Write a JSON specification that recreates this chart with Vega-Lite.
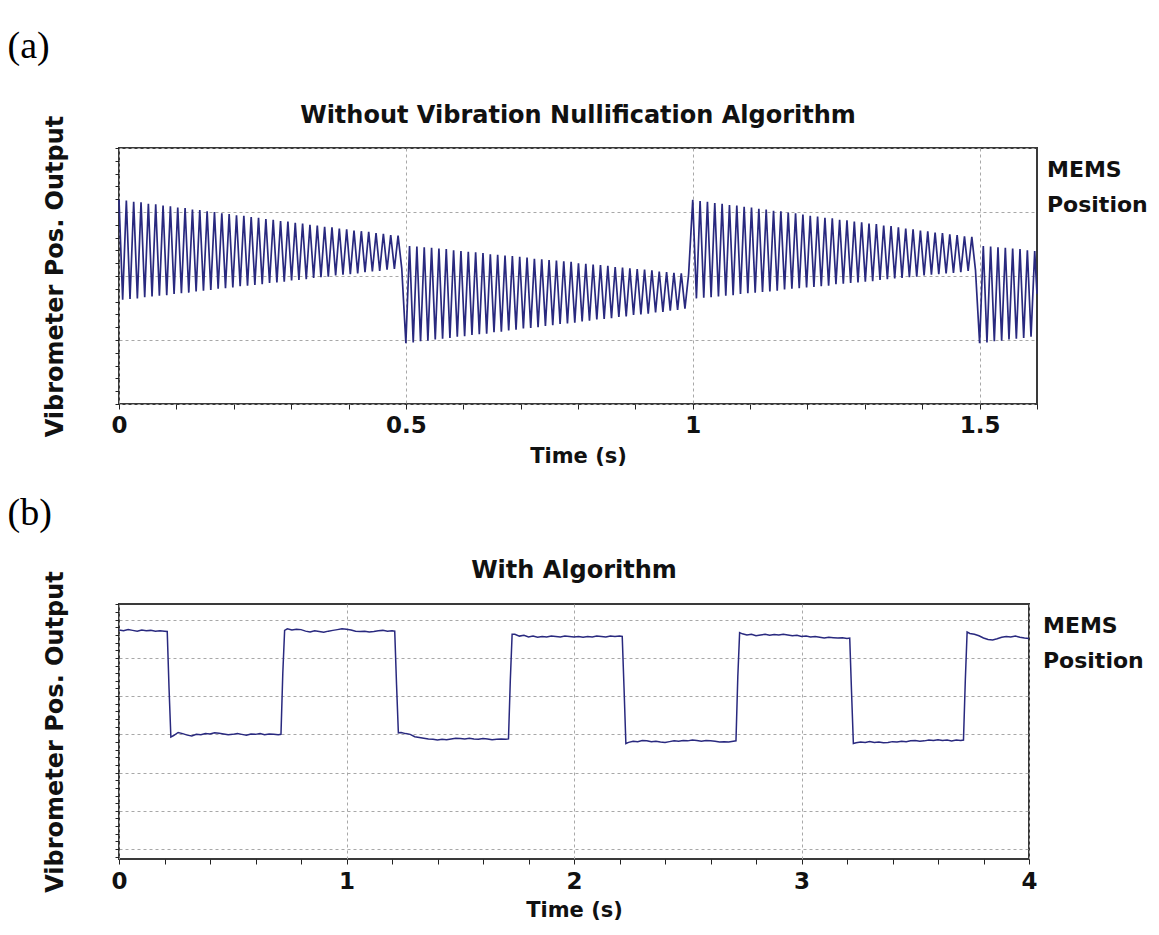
{
  "$schema": "https://vega.github.io/schema/vega-lite/v6.json",
  "background": "white",
  "padding": {"left": 7, "top": 28, "right": 0, "bottom": 0},
  "datasets": {
    "a": [
      {"t":0,"v":3.19},{"t":0.0064,"v":1.63},{"t":0.0128,"v":3.18},{"t":0.0192,"v":1.64},{"t":0.0256,"v":3.16},{"t":0.032,"v":1.65},{"t":0.0384,"v":3.15},{"t":0.0448,"v":1.67},{"t":0.0512,"v":3.13},{"t":0.0576,"v":1.68},
      {"t":0.064,"v":3.12},{"t":0.0704,"v":1.69},{"t":0.0768,"v":3.10},{"t":0.0832,"v":1.70},{"t":0.0896,"v":3.09},{"t":0.096,"v":1.72},{"t":0.1024,"v":3.07},{"t":0.1088,"v":1.73},{"t":0.1152,"v":3.06},{"t":0.1216,"v":1.74},
      {"t":0.128,"v":3.04},{"t":0.1344,"v":1.76},{"t":0.1408,"v":3.03},{"t":0.1472,"v":1.77},{"t":0.1536,"v":3.01},{"t":0.16,"v":1.78},{"t":0.1664,"v":3.00},{"t":0.1728,"v":1.80},{"t":0.1792,"v":2.98},{"t":0.1856,"v":1.81},
      {"t":0.192,"v":2.97},{"t":0.1984,"v":1.82},{"t":0.2048,"v":2.95},{"t":0.2112,"v":1.84},{"t":0.2176,"v":2.94},{"t":0.224,"v":1.85},{"t":0.2304,"v":2.92},{"t":0.2368,"v":1.86},{"t":0.2432,"v":2.91},{"t":0.2496,"v":1.87},
      {"t":0.256,"v":2.89},{"t":0.2624,"v":1.89},{"t":0.2688,"v":2.88},{"t":0.2752,"v":1.90},{"t":0.2816,"v":2.86},{"t":0.288,"v":1.91},{"t":0.2944,"v":2.85},{"t":0.3008,"v":1.93},{"t":0.3072,"v":2.83},{"t":0.3136,"v":1.94},
      {"t":0.32,"v":2.82},{"t":0.3264,"v":1.95},{"t":0.3328,"v":2.80},{"t":0.3392,"v":1.97},{"t":0.3456,"v":2.79},{"t":0.352,"v":1.98},{"t":0.3584,"v":2.77},{"t":0.3648,"v":1.99},{"t":0.3712,"v":2.76},{"t":0.3776,"v":2.01},
      {"t":0.384,"v":2.74},{"t":0.3904,"v":2.02},{"t":0.3968,"v":2.73},{"t":0.4032,"v":2.03},{"t":0.4096,"v":2.71},{"t":0.416,"v":2.04},{"t":0.4224,"v":2.70},{"t":0.4288,"v":2.06},{"t":0.4352,"v":2.69},{"t":0.4416,"v":2.07},
      {"t":0.448,"v":2.67},{"t":0.4544,"v":2.08},{"t":0.4608,"v":2.66},{"t":0.4672,"v":2.10},{"t":0.4736,"v":2.64},{"t":0.48,"v":2.11},{"t":0.4864,"v":2.63},{"t":0.4928,"v":2.12},
      {"t":0.5,"v":0.95},{"t":0.5064,"v":2.47},{"t":0.5128,"v":0.96},{"t":0.5192,"v":2.46},{"t":0.5256,"v":0.98},{"t":0.532,"v":2.45},{"t":0.5384,"v":0.99},{"t":0.5448,"v":2.44},{"t":0.5512,"v":1.01},{"t":0.5576,"v":2.43},
      {"t":0.564,"v":1.02},{"t":0.5704,"v":2.42},{"t":0.5768,"v":1.03},{"t":0.5832,"v":2.40},{"t":0.5896,"v":1.05},{"t":0.596,"v":2.39},{"t":0.6024,"v":1.06},{"t":0.6088,"v":2.38},{"t":0.6152,"v":1.08},{"t":0.6216,"v":2.37},
      {"t":0.628,"v":1.09},{"t":0.6344,"v":2.36},{"t":0.6408,"v":1.10},{"t":0.6472,"v":2.34},{"t":0.6536,"v":1.12},{"t":0.66,"v":2.33},{"t":0.6664,"v":1.13},{"t":0.6728,"v":2.32},{"t":0.6792,"v":1.15},{"t":0.6856,"v":2.31},
      {"t":0.692,"v":1.16},{"t":0.6984,"v":2.30},{"t":0.7048,"v":1.18},{"t":0.7112,"v":2.29},{"t":0.7176,"v":1.19},{"t":0.724,"v":2.27},{"t":0.7304,"v":1.20},{"t":0.7368,"v":2.26},{"t":0.7432,"v":1.22},{"t":0.7496,"v":2.25},
      {"t":0.756,"v":1.23},{"t":0.7624,"v":2.24},{"t":0.7688,"v":1.25},{"t":0.7752,"v":2.23},{"t":0.7816,"v":1.26},{"t":0.788,"v":2.22},{"t":0.7944,"v":1.27},{"t":0.8008,"v":2.20},{"t":0.8072,"v":1.29},{"t":0.8136,"v":2.19},
      {"t":0.82,"v":1.30},{"t":0.8264,"v":2.18},{"t":0.8328,"v":1.32},{"t":0.8392,"v":2.17},{"t":0.8456,"v":1.33},{"t":0.852,"v":2.16},{"t":0.8584,"v":1.34},{"t":0.8648,"v":2.14},{"t":0.8712,"v":1.36},{"t":0.8776,"v":2.13},
      {"t":0.884,"v":1.37},{"t":0.8904,"v":2.12},{"t":0.8968,"v":1.39},{"t":0.9032,"v":2.11},{"t":0.9096,"v":1.40},{"t":0.916,"v":2.10},{"t":0.9224,"v":1.41},{"t":0.9288,"v":2.09},{"t":0.9352,"v":1.43},{"t":0.9416,"v":2.07},
      {"t":0.948,"v":1.44},{"t":0.9544,"v":2.06},{"t":0.9608,"v":1.46},{"t":0.9672,"v":2.05},{"t":0.9736,"v":1.47},{"t":0.98,"v":2.04},{"t":0.9864,"v":1.49},{"t":0.9928,"v":2.03},
      {"t":1,"v":3.19},{"t":1.0064,"v":1.65},{"t":1.0128,"v":3.17},{"t":1.0192,"v":1.66},{"t":1.0256,"v":3.16},{"t":1.032,"v":1.67},{"t":1.0384,"v":3.14},{"t":1.0448,"v":1.68},{"t":1.0512,"v":3.13},{"t":1.0576,"v":1.69},
      {"t":1.064,"v":3.11},{"t":1.0704,"v":1.70},{"t":1.0768,"v":3.10},{"t":1.0832,"v":1.72},{"t":1.0896,"v":3.08},{"t":1.096,"v":1.73},{"t":1.1024,"v":3.07},{"t":1.1088,"v":1.74},{"t":1.1152,"v":3.05},{"t":1.1216,"v":1.75},
      {"t":1.128,"v":3.04},{"t":1.1344,"v":1.76},{"t":1.1408,"v":3.02},{"t":1.1472,"v":1.77},{"t":1.1536,"v":3.01},{"t":1.16,"v":1.79},{"t":1.1664,"v":2.99},{"t":1.1728,"v":1.80},{"t":1.1792,"v":2.98},{"t":1.1856,"v":1.81},
      {"t":1.192,"v":2.96},{"t":1.1984,"v":1.82},{"t":1.2048,"v":2.94},{"t":1.2112,"v":1.83},{"t":1.2176,"v":2.93},{"t":1.224,"v":1.84},{"t":1.2304,"v":2.91},{"t":1.2368,"v":1.85},{"t":1.2432,"v":2.90},{"t":1.2496,"v":1.87},
      {"t":1.256,"v":2.88},{"t":1.2624,"v":1.88},{"t":1.2688,"v":2.87},{"t":1.2752,"v":1.89},{"t":1.2816,"v":2.85},{"t":1.288,"v":1.90},{"t":1.2944,"v":2.84},{"t":1.3008,"v":1.91},{"t":1.3072,"v":2.82},{"t":1.3136,"v":1.92},
      {"t":1.32,"v":2.81},{"t":1.3264,"v":1.94},{"t":1.3328,"v":2.79},{"t":1.3392,"v":1.95},{"t":1.3456,"v":2.78},{"t":1.352,"v":1.96},{"t":1.3584,"v":2.76},{"t":1.3648,"v":1.97},{"t":1.3712,"v":2.74},{"t":1.3776,"v":1.98},
      {"t":1.384,"v":2.73},{"t":1.3904,"v":1.99},{"t":1.3968,"v":2.71},{"t":1.4032,"v":2.01},{"t":1.4096,"v":2.70},{"t":1.416,"v":2.02},{"t":1.4224,"v":2.68},{"t":1.4288,"v":2.03},{"t":1.4352,"v":2.67},{"t":1.4416,"v":2.04},
      {"t":1.448,"v":2.65},{"t":1.4544,"v":2.05},{"t":1.4608,"v":2.64},{"t":1.4672,"v":2.06},{"t":1.4736,"v":2.62},{"t":1.48,"v":2.08},{"t":1.4864,"v":2.61},{"t":1.4928,"v":2.09},
      {"t":1.5,"v":0.95},{"t":1.5064,"v":2.47},{"t":1.5128,"v":0.96},{"t":1.5192,"v":2.46},{"t":1.5256,"v":0.98},{"t":1.532,"v":2.45},{"t":1.5384,"v":0.99},{"t":1.5448,"v":2.44},{"t":1.5512,"v":1.01},{"t":1.5576,"v":2.43},
      {"t":1.564,"v":1.02},{"t":1.5704,"v":2.42},{"t":1.5768,"v":1.03},{"t":1.5832,"v":2.40},{"t":1.5896,"v":1.05},{"t":1.596,"v":2.39},{"t":1.6,"v":1.72}
    ],
    "b": [
      {"t":0,"v":5.73},{"t":0.02,"v":5.71},{"t":0.04,"v":5.74},{"t":0.06,"v":5.72},{"t":0.08,"v":5.70},{"t":0.1,"v":5.73},{"t":0.12,"v":5.71},{"t":0.14,"v":5.72},{"t":0.16,"v":5.70},{"t":0.18,"v":5.71},{"t":0.2,"v":5.70},{"t":0.212,"v":5.69},
      {"t":0.22,"v":4.2},{"t":0.228,"v":2.93},
      {"t":0.24,"v":2.97},{"t":0.26,"v":3.05},{"t":0.28,"v":3.02},{"t":0.3,"v":2.98},{"t":0.32,"v":2.96},{"t":0.34,"v":3.00},{"t":0.36,"v":2.99},{"t":0.38,"v":3.02},{"t":0.4,"v":3.01},{"t":0.42,"v":3.04},{"t":0.44,"v":3.03},{"t":0.46,"v":3.01},{"t":0.48,"v":2.99},{"t":0.5,"v":3.00},{"t":0.52,"v":3.02},{"t":0.54,"v":3.00},{"t":0.56,"v":2.98},{"t":0.58,"v":3.01},{"t":0.6,"v":3.00},{"t":0.62,"v":3.02},{"t":0.64,"v":2.99},{"t":0.66,"v":3.01},{"t":0.68,"v":3.00},{"t":0.7,"v":2.99},{"t":0.712,"v":3.0},
      {"t":0.72,"v":4.6},{"t":0.728,"v":5.72},
      {"t":0.74,"v":5.76},{"t":0.76,"v":5.73},{"t":0.78,"v":5.75},{"t":0.8,"v":5.74},{"t":0.82,"v":5.70},{"t":0.84,"v":5.68},{"t":0.86,"v":5.71},{"t":0.88,"v":5.69},{"t":0.9,"v":5.67},{"t":0.92,"v":5.70},{"t":0.94,"v":5.72},{"t":0.96,"v":5.74},{"t":0.98,"v":5.76},{"t":1.0,"v":5.75},{"t":1.02,"v":5.73},{"t":1.04,"v":5.70},{"t":1.06,"v":5.69},{"t":1.08,"v":5.70},{"t":1.1,"v":5.68},{"t":1.12,"v":5.69},{"t":1.14,"v":5.71},{"t":1.16,"v":5.72},{"t":1.18,"v":5.70},{"t":1.2,"v":5.71},{"t":1.212,"v":5.70},
      {"t":1.22,"v":4.3},{"t":1.228,"v":3.04},
      {"t":1.24,"v":3.05},{"t":1.26,"v":3.02},{"t":1.28,"v":3.00},{"t":1.3,"v":2.94},{"t":1.32,"v":2.92},{"t":1.34,"v":2.90},{"t":1.36,"v":2.88},{"t":1.38,"v":2.87},{"t":1.4,"v":2.85},{"t":1.42,"v":2.87},{"t":1.44,"v":2.86},{"t":1.46,"v":2.88},{"t":1.48,"v":2.90},{"t":1.5,"v":2.89},{"t":1.52,"v":2.88},{"t":1.54,"v":2.90},{"t":1.56,"v":2.88},{"t":1.58,"v":2.87},{"t":1.6,"v":2.89},{"t":1.62,"v":2.88},{"t":1.64,"v":2.86},{"t":1.66,"v":2.87},{"t":1.68,"v":2.88},{"t":1.7,"v":2.87},{"t":1.712,"v":2.88},
      {"t":1.72,"v":4.4},{"t":1.728,"v":5.62},
      {"t":1.74,"v":5.62},{"t":1.76,"v":5.57},{"t":1.78,"v":5.59},{"t":1.8,"v":5.55},{"t":1.82,"v":5.57},{"t":1.84,"v":5.54},{"t":1.86,"v":5.56},{"t":1.88,"v":5.55},{"t":1.9,"v":5.57},{"t":1.92,"v":5.56},{"t":1.94,"v":5.55},{"t":1.96,"v":5.57},{"t":1.98,"v":5.56},{"t":2.0,"v":5.55},{"t":2.02,"v":5.56},{"t":2.04,"v":5.54},{"t":2.06,"v":5.56},{"t":2.08,"v":5.55},{"t":2.1,"v":5.57},{"t":2.12,"v":5.56},{"t":2.14,"v":5.55},{"t":2.16,"v":5.57},{"t":2.18,"v":5.56},{"t":2.2,"v":5.57},{"t":2.212,"v":5.56},
      {"t":2.22,"v":4.2},{"t":2.228,"v":2.76},
      {"t":2.24,"v":2.79},{"t":2.26,"v":2.82},{"t":2.28,"v":2.81},{"t":2.3,"v":2.84},{"t":2.32,"v":2.83},{"t":2.34,"v":2.81},{"t":2.36,"v":2.82},{"t":2.38,"v":2.80},{"t":2.4,"v":2.79},{"t":2.42,"v":2.81},{"t":2.44,"v":2.83},{"t":2.46,"v":2.82},{"t":2.48,"v":2.84},{"t":2.5,"v":2.83},{"t":2.52,"v":2.85},{"t":2.54,"v":2.84},{"t":2.56,"v":2.82},{"t":2.58,"v":2.84},{"t":2.6,"v":2.83},{"t":2.62,"v":2.82},{"t":2.64,"v":2.80},{"t":2.66,"v":2.81},{"t":2.68,"v":2.80},{"t":2.7,"v":2.82},{"t":2.712,"v":2.83},
      {"t":2.72,"v":4.5},{"t":2.728,"v":5.66},
      {"t":2.74,"v":5.63},{"t":2.76,"v":5.60},{"t":2.78,"v":5.62},{"t":2.8,"v":5.58},{"t":2.82,"v":5.60},{"t":2.84,"v":5.62},{"t":2.86,"v":5.59},{"t":2.88,"v":5.61},{"t":2.9,"v":5.60},{"t":2.92,"v":5.62},{"t":2.94,"v":5.60},{"t":2.96,"v":5.58},{"t":2.98,"v":5.59},{"t":3.0,"v":5.56},{"t":3.02,"v":5.57},{"t":3.04,"v":5.55},{"t":3.06,"v":5.56},{"t":3.08,"v":5.54},{"t":3.1,"v":5.52},{"t":3.12,"v":5.54},{"t":3.14,"v":5.53},{"t":3.16,"v":5.52},{"t":3.18,"v":5.53},{"t":3.2,"v":5.51},{"t":3.212,"v":5.52},
      {"t":3.22,"v":4.1},{"t":3.228,"v":2.76},
      {"t":3.24,"v":2.78},{"t":3.26,"v":2.80},{"t":3.28,"v":2.79},{"t":3.3,"v":2.81},{"t":3.32,"v":2.79},{"t":3.34,"v":2.80},{"t":3.36,"v":2.78},{"t":3.38,"v":2.79},{"t":3.4,"v":2.81},{"t":3.42,"v":2.80},{"t":3.44,"v":2.82},{"t":3.46,"v":2.81},{"t":3.48,"v":2.83},{"t":3.5,"v":2.84},{"t":3.52,"v":2.82},{"t":3.54,"v":2.83},{"t":3.56,"v":2.85},{"t":3.58,"v":2.84},{"t":3.6,"v":2.86},{"t":3.62,"v":2.84},{"t":3.64,"v":2.85},{"t":3.66,"v":2.83},{"t":3.68,"v":2.85},{"t":3.7,"v":2.84},{"t":3.712,"v":2.85},
      {"t":3.72,"v":4.4},{"t":3.728,"v":5.68},
      {"t":3.74,"v":5.64},{"t":3.76,"v":5.62},{"t":3.78,"v":5.58},{"t":3.8,"v":5.52},{"t":3.82,"v":5.48},{"t":3.84,"v":5.47},{"t":3.86,"v":5.50},{"t":3.88,"v":5.54},{"t":3.9,"v":5.56},{"t":3.92,"v":5.55},{"t":3.94,"v":5.57},{"t":3.96,"v":5.54},{"t":3.98,"v":5.52},{"t":4.0,"v":5.51}
    ]
  },
  "config": {
    "font": "DejaVu Sans",
    "view": {"stroke": "#3a3a3a", "strokeWidth": 2},
    "title": {"font": "DejaVu Sans", "fontWeight": "bold", "fontSize": 24, "color": "#111111"},
    "axis": {
      "domain": false,
      "labelFont": "DejaVu Sans", "labelFontWeight": "bold", "labelFontSize": 23, "labelColor": "#111111",
      "titleFont": "DejaVu Sans", "titleFontWeight": "bold", "titleColor": "#111111",
      "tickColor": "#222222", "tickWidth": 1, "tickCount": 1000,
      "gridColor": "#a8a8a8", "gridDash": [3, 3], "gridWidth": 1,
      "labelFlush": false, "labelOverlap": false
    }
  },
  "spacing": 27,
  "vconcat": [
    {
      "title": {"text": "(a)", "font": "Liberation Serif", "fontSize": 38, "fontWeight": "normal", "anchor": "start", "dx": -35, "offset": 37, "color": "#000000"},
      "vconcat": [
        {
          "width": 918,
          "height": 256,
          "title": {"text": "Without Vibration Nullification Algorithm", "anchor": "middle", "fontSize": 24, "offset": -13},
          "layer": [
            {
              "data": {"name": "a"},
              "mark": {"type": "line", "color": "#29297f", "strokeWidth": 1.7},
              "encoding": {
                "x": {"field": "t", "type": "quantitative", "title": "Time (s)",
                  "scale": {"domain": [0, 1.6], "nice": false, "zero": false},
                  "axis": {
                    "values": [0,0.1,0.2,0.3,0.4,0.5,0.6,0.7,0.8,0.9,1,1.1,1.2,1.3,1.4,1.5,1.6],
                    "format": "~g",
                    "labelExpr": "abs(datum.value*2 - round(datum.value*2)) < 0.001 ? datum.label : ''",
                    "grid": true,
                    "gridOpacity": {"condition": {"test": "abs(datum.value*2 - round(datum.value*2)) < 0.001", "value": 1}, "value": 0},
                    "tickSize": 5, "labelPadding": 5, "titleFontSize": 21, "titlePadding": 8
                  }},
                "y": {"field": "v", "type": "quantitative", "title": "Vibrometer Pos. Output",
                  "scale": {"domain": [0, 4], "nice": false, "zero": false},
                  "axis": {
                    "values": [0,0.2,0.4,0.6,0.8,1,1.2,1.4,1.6,1.8,2,2.2,2.4,2.6,2.8,3,3.2,3.4,3.6,3.8,4],
                    "labels": false,
                    "grid": true,
                    "gridOpacity": {"condition": {"test": "abs(datum.value - round(datum.value)) < 0.001", "value": 1}, "value": 0},
                    "tickSize": 4, "titleFontSize": 24, "titlePadding": 47
                  }}
              }
            },
            {
              "data": {"values": [{"label": "MEMS Position"}]},
              "mark": {"type": "text", "align": "left", "baseline": "top", "lineBreak": " ", "lineHeight": 35, "dx": 10, "dy": 12, "font": "DejaVu Sans", "fontSize": 22, "fontWeight": "bold", "color": "#111111"},
              "encoding": {
                "x": {"datum": 1.6, "type": "quantitative", "title": "Time (s)"},
                "y": {"datum": 4, "type": "quantitative", "title": "Vibrometer Pos. Output"},
                "text": {"field": "label"}
              }
            }
          ]
        }
      ]
    },
    {
      "title": {"text": "(b)", "font": "Liberation Serif", "fontSize": 38, "fontWeight": "normal", "anchor": "start", "dx": -35, "offset": 25, "color": "#000000"},
      "vconcat": [
        {
          "width": 910,
          "height": 255,
          "title": {"text": "With Algorithm", "anchor": "middle", "fontSize": 24, "offset": -12},
          "layer": [
            {
              "data": {"name": "b"},
              "mark": {"type": "line", "color": "#29297f", "strokeWidth": 1.5},
              "encoding": {
                "x": {"field": "t", "type": "quantitative", "title": "Time (s)",
                  "scale": {"domain": [0, 4], "nice": false, "zero": false},
                  "axis": {
                    "values": [0,0.2,0.4,0.6,0.8,1,1.2,1.4,1.6,1.8,2,2.2,2.4,2.6,2.8,3,3.2,3.4,3.6,3.8,4],
                    "format": "~g",
                    "labelExpr": "abs(datum.value - round(datum.value)) < 0.001 ? datum.label : ''",
                    "grid": true,
                    "gridOpacity": {"condition": {"test": "abs(datum.value - round(datum.value)) < 0.001", "value": 1}, "value": 0},
                    "tickSize": 5, "labelPadding": 6, "titleFontSize": 21, "titlePadding": 6
                  }},
                "y": {"field": "v", "type": "quantitative", "title": "Vibrometer Pos. Output",
                  "scale": {"domain": [-0.26, 6.41], "nice": false, "zero": false},
                  "axis": {
                    "values": [-0.2,0,0.2,0.4,0.6,0.8,1,1.2,1.4,1.6,1.8,2,2.2,2.4,2.6,2.8,3,3.2,3.4,3.6,3.8,4,4.2,4.4,4.6,4.8,5,5.2,5.4,5.6,5.8,6,6.2,6.4],
                    "labels": false,
                    "grid": true,
                    "gridOpacity": {"condition": {"test": "abs(datum.value - round(datum.value)) < 0.001", "value": 1}, "value": 0},
                    "tickSize": 4, "titleFontSize": 24, "titlePadding": 47
                  }}
              }
            },
            {
              "data": {"values": [{"label": "MEMS Position"}]},
              "mark": {"type": "text", "align": "left", "baseline": "top", "lineBreak": " ", "lineHeight": 35, "dx": 14, "dy": 12, "font": "DejaVu Sans", "fontSize": 22, "fontWeight": "bold", "color": "#111111"},
              "encoding": {
                "x": {"datum": 4, "type": "quantitative", "title": "Time (s)"},
                "y": {"datum": 6.41, "type": "quantitative", "title": "Vibrometer Pos. Output"},
                "text": {"field": "label"}
              }
            }
          ]
        }
      ]
    }
  ]
}
